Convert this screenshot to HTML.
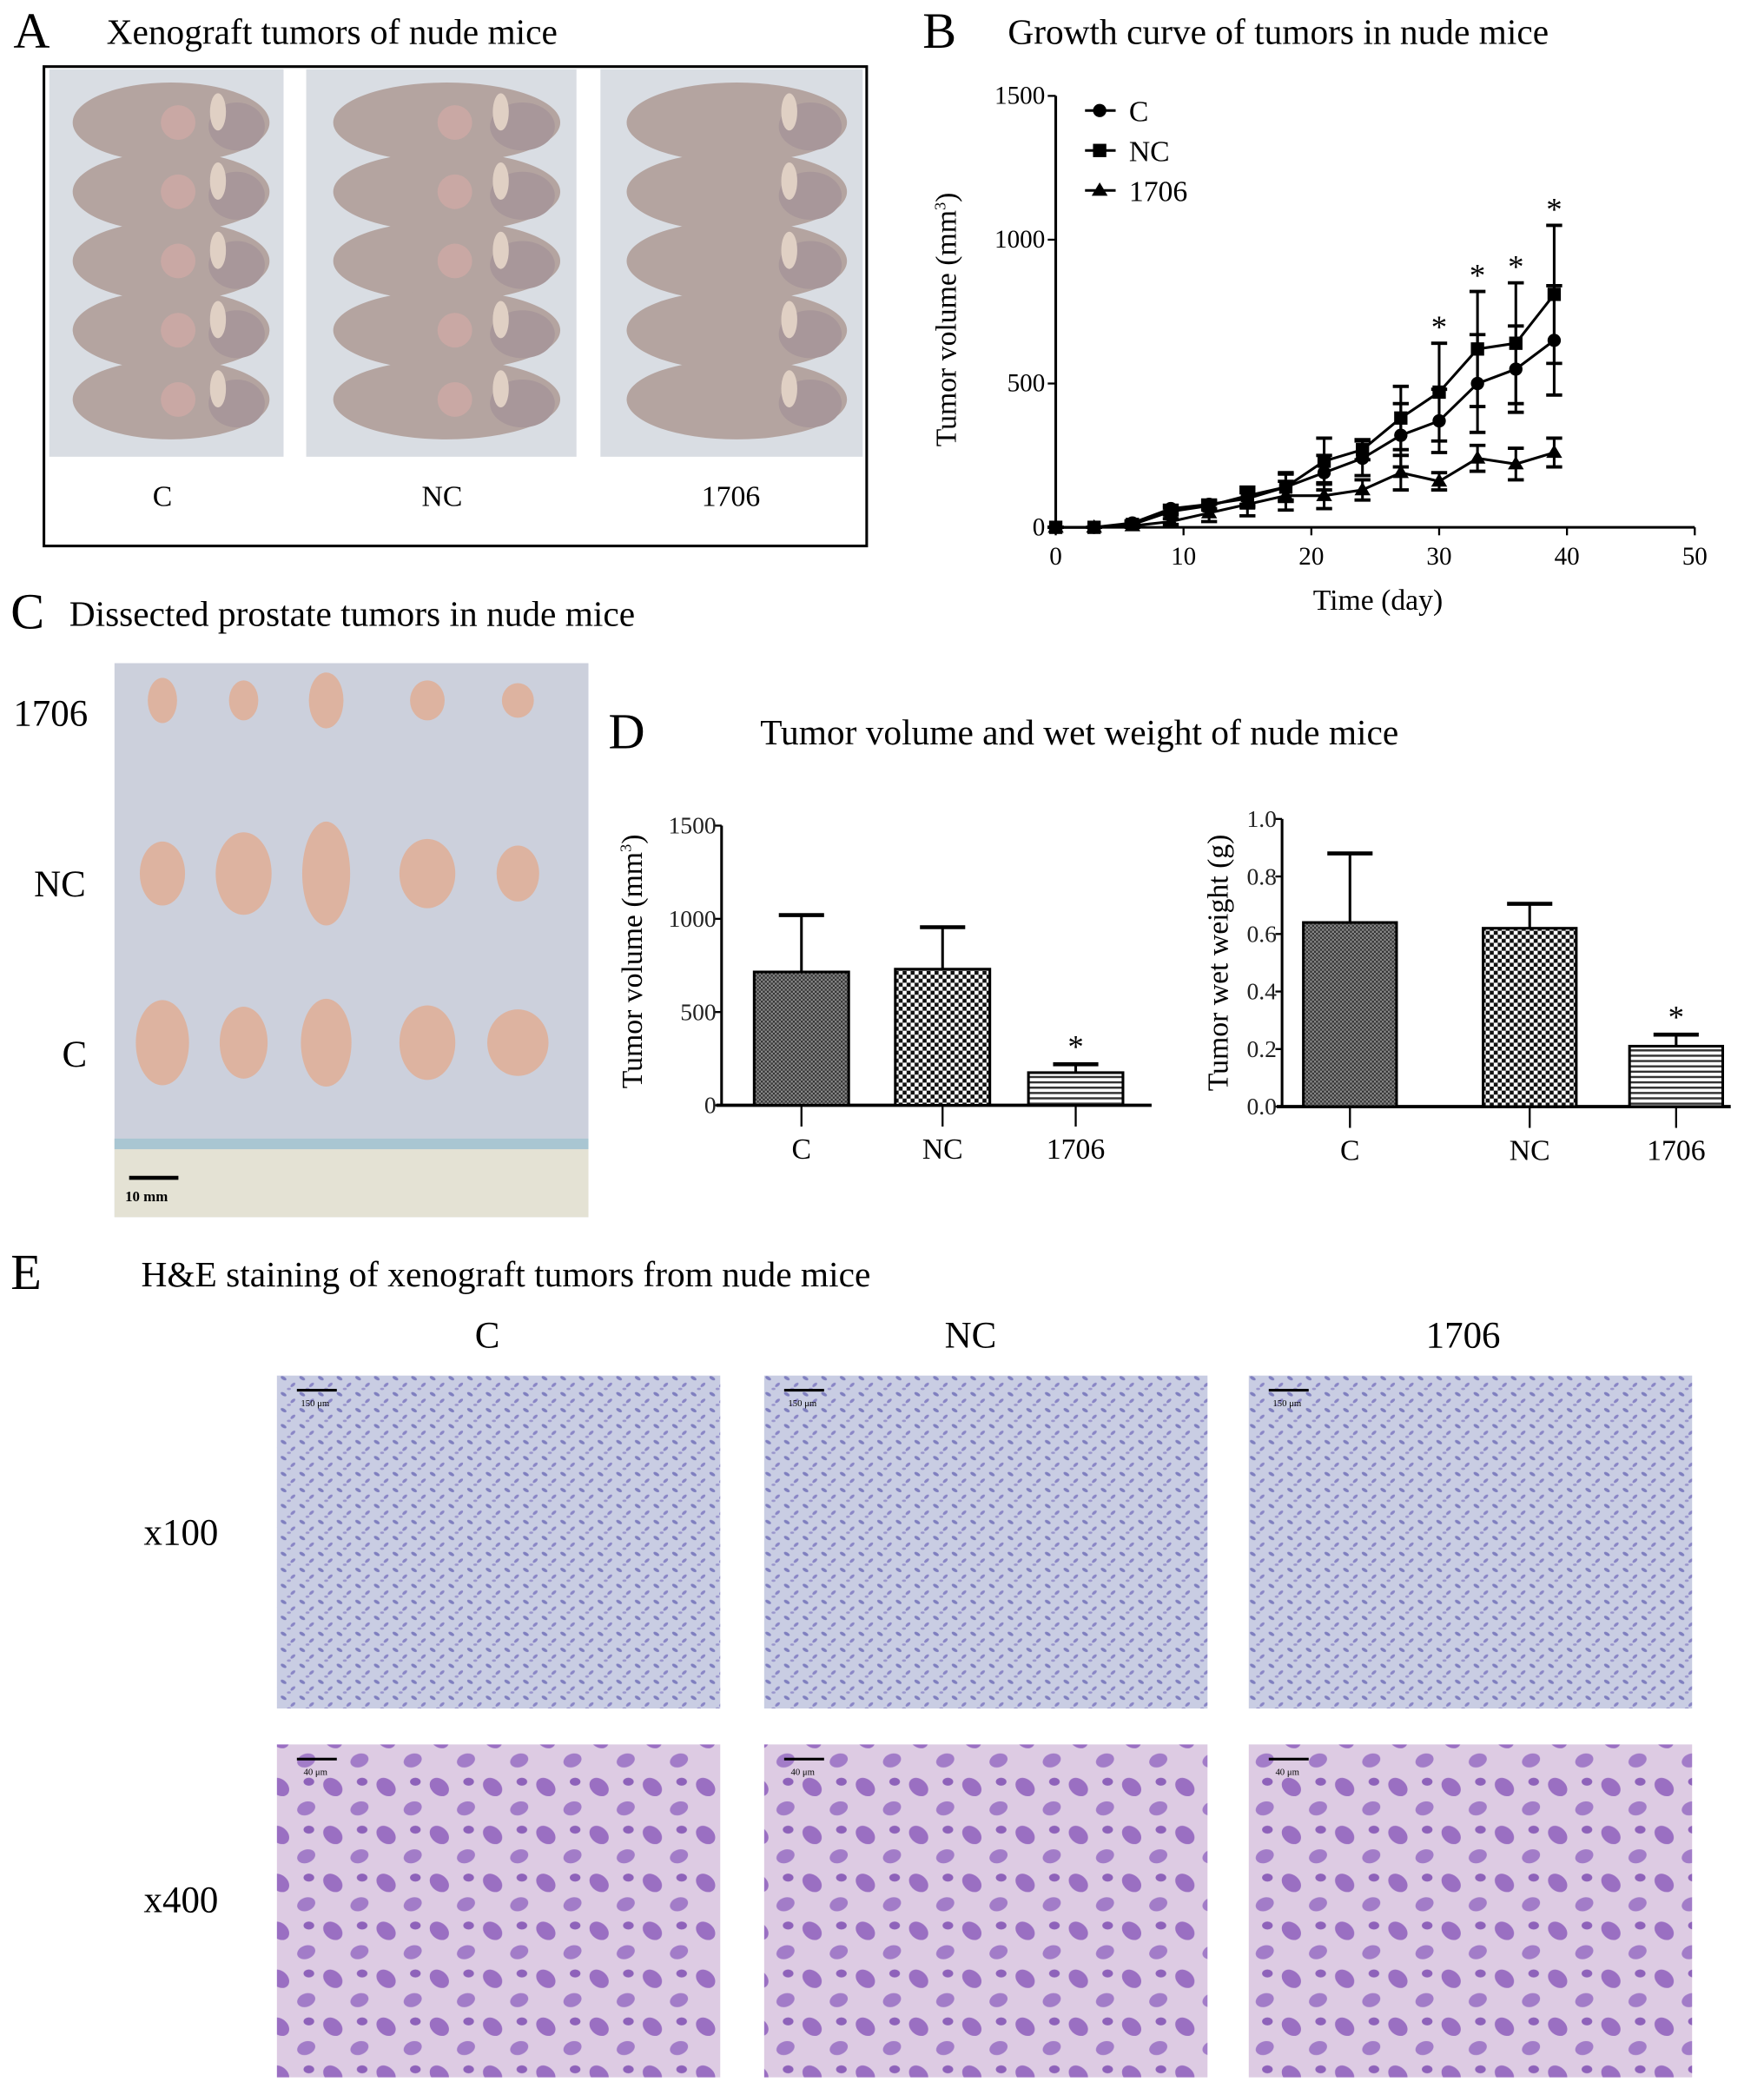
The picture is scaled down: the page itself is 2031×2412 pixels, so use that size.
<!DOCTYPE html>
<html><head><meta charset="utf-8"><style>
html,body{margin:0;padding:0;background:#fff;}
svg, svg text{font-family:"Liberation Serif","Times New Roman",serif;}
</style></head><body>
<svg id="fig" width="2031" height="2407" viewBox="0 0 1325 1570" preserveAspectRatio="none" xmlns="http://www.w3.org/2000/svg" font-family="Liberation Serif, serif">
<defs>
<pattern id="patC" width="3" height="3" patternUnits="userSpaceOnUse"><rect width="3" height="3" fill="#8a8a8a"/><rect width="1.5" height="1.5" fill="#333"/><rect x="1.5" y="1.5" width="1.5" height="1.5" fill="#333"/></pattern>
<pattern id="patNC" width="6" height="6" patternUnits="userSpaceOnUse"><rect width="6" height="6" fill="#111"/><rect width="3" height="3" fill="#fff"/><rect x="3" y="3" width="3" height="3" fill="#fff"/></pattern>
<pattern id="pat17" width="4" height="4" patternUnits="userSpaceOnUse"><rect width="4" height="4" fill="#fff"/><rect width="4" height="1.6" fill="#333"/></pattern>
<pattern id="h100" width="14" height="12" patternUnits="userSpaceOnUse"><rect width="14" height="12" fill="#c9cde3"/><ellipse cx="3" cy="3" rx="2.4" ry="1.2" fill="#7f7fbf" transform="rotate(30 3 3)"/><ellipse cx="10" cy="8" rx="2.2" ry="1.1" fill="#8a86c6" transform="rotate(-40 10 8)"/><ellipse cx="7" cy="11" rx="1.5" ry="0.9" fill="#9a96cc"/></pattern>
<pattern id="h400" width="40" height="36" patternUnits="userSpaceOnUse"><rect width="40" height="36" fill="#ddcbe3"/><ellipse cx="10" cy="10" rx="8" ry="6" fill="#9a6fc2" transform="rotate(40 10 10)"/><ellipse cx="30" cy="26" rx="7" ry="5" fill="#a27cc8" transform="rotate(-20 30 26)"/><ellipse cx="32" cy="6" rx="4" ry="3" fill="#8e62ba"/></pattern>
</defs>

<text x="10" y="36" font-size="38">A</text>
<text x="80" y="33" font-size="27">Xenograft tumors of nude mice</text>
<rect x="33" y="50" width="618" height="360" fill="#fff" stroke="#000" stroke-width="2"/>
<g id="mice"></g>
<text x="122" y="380" font-size="22" text-anchor="middle">C</text>
<text x="332" y="380" font-size="22" text-anchor="middle">NC</text>
<text x="549" y="380" font-size="22" text-anchor="middle">1706</text>

<text x="693" y="36" font-size="38">B</text>
<text x="757" y="33" font-size="27">Growth curve of tumors in nude mice</text>
<g id="chartB"></g>

<text x="8" y="472" font-size="38">C</text>
<text x="52" y="470" font-size="27">Dissected prostate tumors in nude mice</text>
<text x="38" y="545" font-size="28" text-anchor="middle">1706</text>
<text x="45" y="673" font-size="28" text-anchor="middle">NC</text>
<text x="56" y="801" font-size="28" text-anchor="middle">C</text>
<g id="tumors"></g>

<text x="457" y="562" font-size="38">D</text>
<text x="571" y="559" font-size="27">Tumor volume and wet weight of nude mice</text>
<g id="chartD1"></g>
<g id="chartD2"></g>

<text x="8" y="968" font-size="38">E</text>
<text x="106" y="966" font-size="27">H&amp;E staining of xenograft tumors from nude mice</text>
<text x="366" y="1012" font-size="28" text-anchor="middle">C</text>
<text x="729" y="1012" font-size="28" text-anchor="middle">NC</text>
<text x="1099" y="1012" font-size="28" text-anchor="middle">1706</text>
<text x="136" y="1160" font-size="28" text-anchor="middle">x100</text>
<text x="136" y="1436" font-size="28" text-anchor="middle">x400</text>
<g id="histo"></g>
</svg>
<script>
const days = [0,3,6,9,12,15,18,21,24,27,30,33,36,39];
const volC = [0,0,15,65,80,100,140,190,240,320,370,500,550,650];
const volNC = [0,0,10,55,75,110,140,230,270,380,470,620,640,810];
const vol1706 = [0,0,5,20,50,80,110,110,130,190,160,240,220,260];
const errC = [0,0,8,12,15,30,45,60,60,110,110,170,150,190];
const errNC = [0,0,8,12,15,30,50,80,35,110,170,200,210,240];
const err1706 = [0,0,5,10,30,40,50,45,35,60,30,45,55,50];
const sigDays = [30,33,36,39];
const xTicksB = [0,10,20,30,40,50];
const yTicksB = [0,500,1000,1500];
const groups = ['C','NC','1706'];
const volMean = [715,730,175];
const volErr = [305,225,45];
const wtMean = [0.64,0.62,0.21];
const wtErr = [0.24,0.085,0.04];
const yTicksVol = [0,500,1000,1500];
const yTicksWt = [0,0.2,0.4,0.6,0.8,1.0];
const yTickWtLabels = ['0.0','0.2','0.4','0.6','0.8','1.0'];

const NS='http://www.w3.org/2000/svg';
function mk(parent, tag, attrs, txt){const e=document.createElementNS(NS,tag);for(const k in attrs)e.setAttribute(k,attrs[k]);if(tag==='text'&&!attrs['font-family'])e.setAttribute('font-family','Liberation Serif, serif');if(txt!==undefined)e.textContent=txt;parent.appendChild(e);return e;}

(function(){
  const g=document.getElementById('mice');
  const boxes=[[37,52,176,291],[230,52,203,291],[451,52,197,291]];
  boxes.forEach((b,i)=>{
    const r=mk(g,'rect',{x:b[0],y:b[1],width:b[2],height:b[3],fill:'#d9dde3'});
    
    
    for(let k=0;k<5;k++){
      const cy=b[1]+40+k*52;
      const e=mk(g,'ellipse',{cx:b[0]+b[2]*0.52,cy:cy,rx:b[2]*0.42,ry:30,fill:'#b4a4a0'});
      
      
      mk(g,'ellipse',{cx:b[0]+b[2]*0.8,cy:cy+3,rx:b[2]*0.12,ry:18,fill:'#a8979a'});
      mk(g,'ellipse',{cx:b[0]+b[2]*0.72,cy:cy-8,rx:6,ry:14,fill:'#e0d0c4'});
      if(i<2) mk(g,'circle',{cx:b[0]+b[2]*0.55,cy:cy,r:13,fill:'#c9a8a4'});
    }
  });
})();

(function(){
  const g=document.getElementById('tumors');
  const r=mk(g,'rect',{x:86,y:498,width:356,height:416,fill:'#ccd0dc'});
  
  
  mk(g,'rect',{x:86,y:855,width:356,height:59,fill:'#e4e2d4'});
  mk(g,'rect',{x:86,y:855,width:356,height:8,fill:'#a9c6d2'});
  mk(g,'rect',{x:97,y:883,width:37,height:3,fill:'#000'});
  mk(g,'text',{x:94,y:902,'font-size':11,'font-family':'Liberation Sans, sans-serif','font-weight':'bold'},'10 mm');
  const xs=[122,183,245,321,389];
  const rows=[[526,[11,11,13,13,12],[17,15,21,15,13]],[656,[17,21,18,21,16],[24,31,39,26,21]],[783,[20,18,19,21,23],[32,27,33,28,25]]];
  rows.forEach(r=>{xs.forEach((x,i)=>{
    const e=mk(g,'ellipse',{cx:x,cy:r[0],rx:r[1][i],ry:r[2][i],fill:'#ddb3a0'});
    
    
  });});
})();

(function(){
  const g=document.getElementById('histo');
  const xs=[208,574,938];
  xs.forEach(x=>{
    const a=mk(g,'rect',{x:x,y:1033,width:333,height:250,fill:'url(#h100)'});
    
    
    const b=mk(g,'rect',{x:x,y:1310,width:333,height:250,fill:'url(#h400)'});
    
    
    mk(g,'rect',{x:x+15,y:1043,width:30,height:2,fill:'#000'});
    mk(g,'text',{x:x+18,y:1056,'font-size':7,'font-family':'Liberation Sans, sans-serif'},'150 μm');
    mk(g,'rect',{x:x+15,y:1320,width:30,height:2,fill:'#000'});
    mk(g,'text',{x:x+20,y:1333,'font-size':7,'font-family':'Liberation Sans, sans-serif'},'40 μm');
  });
})();

(function(){
  const g=document.getElementById('chartB');
  const x=d=>793+d*9.6, y=v=>396-v*(324/1500);
  mk(g,'line',{x1:793,y1:y(1500),x2:793,y2:396,stroke:'#000','stroke-width':2});
  mk(g,'line',{x1:793,y1:396,x2:x(50),y2:396,stroke:'#000','stroke-width':2});
  yTicksB.forEach(v=>{mk(g,'line',{x1:787,y1:y(v),x2:793,y2:y(v),stroke:'#000','stroke-width':1.5});
    const t=mk(g,'text',{x:785,y:y(v)+6,'font-size':19,'text-anchor':'end'},v);
    
    });
  xTicksB.forEach(d=>{mk(g,'line',{x1:x(d),y1:396,x2:x(d),y2:402,stroke:'#000','stroke-width':1.5});
    const t=mk(g,'text',{x:x(d),y:424,'font-size':19,'text-anchor':'middle'},d);
    
    });
  const yt=mk(g,'text',{x:0,y:0,'font-size':22,'text-anchor':'middle',transform:'translate(718,240) rotate(-90)'});
  yt.innerHTML='Tumor volume (mm<tspan font-size="12" dy="-8">3</tspan><tspan dy="8">)</tspan>';
  
  
  const xt=mk(g,'text',{x:1035,y:458,'font-size':22,'text-anchor':'middle'},'Time (day)');
  
  
  const series=[[volC,errC,'circle','C'],[volNC,errNC,'square','NC'],[vol1706,err1706,'triangle','1706']];
  function marker(parent,shape,cx,cy){
    if(shape==='circle') return mk(parent,'circle',{cx:cx,cy:cy,r:5,fill:'#000'});
    if(shape==='square') return mk(parent,'rect',{x:cx-5,y:cy-5,width:10,height:10,fill:'#000'});
    return mk(parent,'polygon',{points:`${cx},${cy-6} ${cx+6},${cy+4} ${cx-6},${cy+4}`,fill:'#000'});
  }
  series.forEach(s=>{
    const sg=mk(g,'g',{});
    
    
    mk(sg,'polyline',{points:days.map((d,i)=>x(d)+','+y(s[0][i])).join(' '),fill:'none',stroke:'#000','stroke-width':2});
    days.forEach((d,i)=>{
      const cx=x(d),v=s[0][i],e=s[1][i];
      mk(sg,'line',{x1:cx,y1:y(v+e),x2:cx,y2:y(Math.max(0,v-e)),stroke:'#000','stroke-width':2});
      mk(sg,'line',{x1:cx-6,y1:y(v+e),x2:cx+6,y2:y(v+e),stroke:'#000','stroke-width':2.5});
      mk(sg,'line',{x1:cx-6,y1:y(Math.max(0,v-e)),x2:cx+6,y2:y(Math.max(0,v-e)),stroke:'#000','stroke-width':2.5});
      const m=marker(sg,s[2],cx,y(v));
      
      
    });
  });
  sigDays.forEach(d=>{const i=days.indexOf(d);const top=Math.max(volC[i]+errC[i],volNC[i]+errNC[i]);
    const t=mk(g,'text',{x:x(d),y:y(top)-4,'font-size':24,'text-anchor':'middle'},'*');
    
    });
  series.forEach((s,k)=>{const ly=83+k*30;
    const lg=mk(g,'g',{});
    
    
    mk(lg,'line',{x1:815,y1:ly,x2:838,y2:ly,stroke:'#000','stroke-width':2});
    marker(lg,s[2],826,ly);
    mk(lg,'text',{x:848,y:ly+8,'font-size':22},s[3]);});
})();

function barChart(id,means,errs,ticks,tickLabels,axX,y0,hPerUnit,yMax,centers,bw,xEnd,title,titleX){
  const g=document.getElementById(id);
  const y=v=>y0-v*hPerUnit;
  mk(g,'line',{x1:axX,y1:y(yMax),x2:axX,y2:y0,stroke:'#000','stroke-width':2});
  mk(g,'line',{x1:axX-4,y1:y0,x2:xEnd,y2:y0,stroke:'#000','stroke-width':2.5});
  ticks.forEach((v,i)=>{mk(g,'line',{x1:axX-5,y1:y(v),x2:axX,y2:y(v),stroke:'#000','stroke-width':1.5});
    const t=mk(g,'text',{x:axX-4,y:y(v)+6,'font-size':18,'text-anchor':'end',fill:'#222'},tickLabels[i]);
    
    });
  const fills=['url(#patC)','url(#patNC)','url(#pat17)'];
  means.forEach((m,i)=>{const cx=centers[i];
    mk(g,'line',{x1:cx,y1:y(m),x2:cx,y2:y(m+errs[i]),stroke:'#000','stroke-width':2});
    mk(g,'line',{x1:cx-17,y1:y(m+errs[i]),x2:cx+17,y2:y(m+errs[i]),stroke:'#000','stroke-width':3});
    const b=mk(g,'rect',{x:cx-bw/2,y:y(m),width:bw,height:y0-y(m),fill:fills[i],stroke:'#000','stroke-width':2});
    
    
    mk(g,'line',{x1:cx,y1:y0,x2:cx,y2:y0+16,stroke:'#000','stroke-width':1.5});
    const t=mk(g,'text',{x:cx,y:y0+40,'font-size':22,'text-anchor':'middle'},groups[i]);
    
    
  });
  const s=mk(g,'text',{x:centers[2],y:y(means[2]+errs[2])-5,'font-size':24,'text-anchor':'middle'},'*');
  
  
  const yt=mk(g,'text',{x:0,y:0,'font-size':22,'text-anchor':'middle',transform:`translate(${titleX},${y0-108}) rotate(-90)`});
  yt.innerHTML=title;
  
  
}
barChart('chartD1',volMean,volErr,yTicksVol,yTicksVol,542,830,210/1500,1500,[602,708,808],71,865,'Tumor volume (mm<tspan font-size="12" dy="-8">3</tspan><tspan dy="8">)</tspan>',482);
barChart('chartD2',wtMean,wtErr,yTicksWt,yTickWtLabels,963,831,216,1.0,[1014,1149,1259],70,1300,'Tumor wet weight (g)',922);
</script>
</body></html>
